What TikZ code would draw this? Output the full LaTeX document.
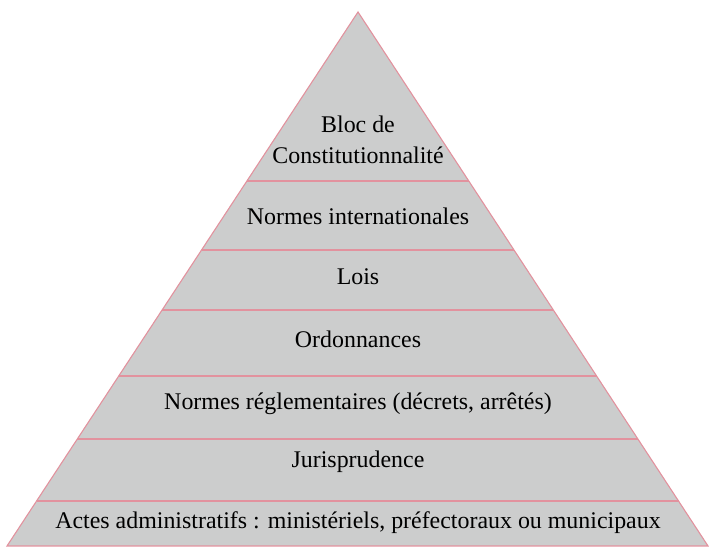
\documentclass[tikz,border=0pt]{standalone}
\usepackage{fontspec}
\setmainfont{Liberation Serif}
\usepackage{tikz}
\usetikzlibrary{calc}

\definecolor{stonegray}{RGB}{204,205,205}
\definecolor{bandline}{RGB}{226,146,158}

\begin{document}
\begin{tikzpicture}[x=1pt, y=1pt]
  \tikzstyle{level}=[anchor=base, align=center, font=\fontsize{23.9}{31}\selectfont]
  \tikzstyle{border}=[draw=bandline, line width=1.1pt]

  \useasboundingbox (0,0) rectangle (709,548);

  \coordinate (A) at (358,536);
  \coordinate (L) at (7,2);
  \coordinate (R) at (708,2);

  \fill[stonegray] (A) -- (L) -- (R) -- cycle;

  % separations between the levels
  \foreach \t in {45,107,170,236,296,365}
    \draw[border] ($(L)!{\t/534}!(A)$) -- ($(R)!{\t/534}!(A)$);

  \draw[border, line join=miter] (A) -- (L) -- (R) -- cycle;

  \node[level] (bloc) at (358,384) {Bloc de\\Constitutionnalité};
  \node[level] (inter) at (358,323) {Normes internationales};
  \node[level] (lois) at (358,263) {Lois};
  \node[level] (ordo) at (358,200) {Ordonnances};
  \node[level] (regl) at (358,138) {Normes réglementaires (décrets, arrêtés)};
  \node[level] (juris) at (358,80) {Jurisprudence};
  \node[level] (actes) at (358,19) {Actes administratifs : ministériels, préfectoraux ou municipaux};
\end{tikzpicture}
\end{document}
